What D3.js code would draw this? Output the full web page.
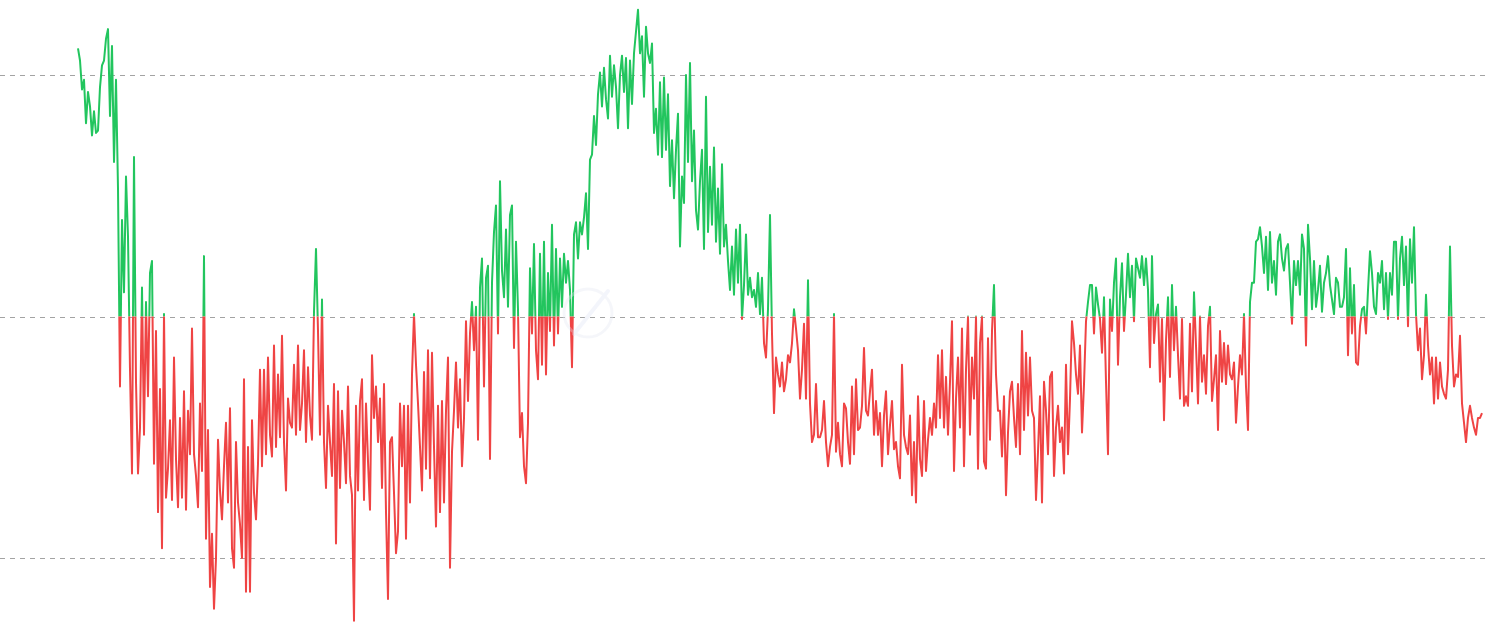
<!DOCTYPE html>
<html>
<head>
<meta charset="utf-8">
<script src="https://cdn.jsdelivr.net/npm/d3@7"></script>
<style>
  html, body { margin: 0; padding: 0; background: #ffffff; }
  svg { display: block; }
</style>
</head>
<body>
<svg id="chart" width="1490" height="633"></svg>
<script>
// ---- Data (gridlines at -100, 0, 100) ----
const gridValues = [-100, 0, 100];

const seriesPart1 = [
  111,106,94,98,80,93,87,75,85,76,
  77,95,104,106,115,119,83,112,64,98,
  53,-29,40,10,58,33,-22,-65,66,-27,
  -65,-46,12,-49,6,-33,18,23,-61,-6,
  -81,-30,-96,1,-75,-63,-43,-76,-17,-59,
  -79,-42,-75,-31,-80,-39,-57,-5,-57,-66,
  -79,-36,-64,25,-92,-47,-112,-90,-121,-100,
  -51,-72,-84,-62,-44,-77,-38,-96,-104,-52,
  -77,-86,-100,-26,-114,-54,-114,-43,-73,-84,
  -61,-22,-62,-22,-57,-17,-49,-58,-12,-54,
  -24,-50,-8,-52,-72,-34,-44,-46,-20,-49,
  -12,-47,-36,-14,-52,-21,-41,-51,2,28,
  -6,-49,7,-52,-71,-37,-52,-66,-28,-94,
  -31,-71,-39,-52,-69,-29,-66,-74,-126,-37,
  -72,-35
];
const seriesPart2 = [
  -26,-76,-36,-60,-80,-16,-42,-29,-52,-34,
  -71,-28,-81,-117,-52,-50,-73,-98,-89,-36,
  -62,-37,-92,-37,-77,-24,1,-20,-36,-54,
  -72,-23,-63,-14,-67,-15,-54,-87,-37,-81,
  -35,-77,-39,-17,-104,-56,-39,-19,-46,-26,
  -62,-42,-2,-35,-7,6,-14,4,-51,12,
  24,-29,16,21,-59,14,35,46,-7,56,
  19,8,36,4,42,46,-13,31,3,-50,
  -40,-62,-69,-44,20,-7,30,-14,-26,26,
  -20,31,-24,18,-6,38,-12,28,-7,24,
  4,26,14,23,11,-21,34,39,24,39,
  34,41,51,28,65,67,83,71,92,101,
  87,103,90,82,108,91,104,95,78,100,
  108,93,107,78,106,88,109,118,127
];
const seriesPart3 = [
  109,116,91,120,109,105,113,76,86,67,
  97,66,99,69,92,54,73,49,69,84,
  29,58,47,100,64,105,56,77,44,36,
  56,69,28,91,35,62,38,70,31,53,
  26,63,29,38,23,11,29,9,36,14,
  38,-1,13,34,9,16,8,11,4,18,
  1,16,-11,-17,3,42,-7,-40,-17,-24,
  -29,-19,-31,-26,-16,-19,-11,3,-5,-14,
  -34,-22,-3,-34,15,-36,-52,-49,-28,-50,
  -50,-47,-35,-52,-62,-54,-49,1,-56,-44,
  -57,-62,-36,-38,-52,-61,-29,-57,-26,-47,
  -46,-37,-13,-39,-41,-31,-22,-49,-35,-49,
  -40,-62,-41,-31,-57,-45,-35,-55,-52,-62,
  -67,-20,-49,-54,-57,-41,-74,-52,-77,-33
];
const seriesPart4 = [
  -59,-66,-35,-64,-51,-42,-49,-36,-46,-16,
  -42,-14,-46,-25,-49,-27,-2,-64,-34,-17,
  -46,-5,-62,-22,0,-49,-17,-34,0,-63,
  -11,0,-60,-63,-9,-51,-6,13,-24,-39,
  -39,-58,-33,-74,-48,-31,-27,-42,-54,-28,
  -57,-6,-47,-15,-41,-17,-39,-42,-76,-56,
  -33,-77,-27,-39,-57,-25,-23,-66,-46,-37,
  -52,-46,-65,-20,-57,-34,-2,-11,-24,-32,
  -12,-48,-28,-2,6,13,13,-7,12,5,
  -1,-15,8,-27,-57,7,-6,14,24,-20,
  8,22,-6,9,26,8,21,-2,24,20,
  16,25,13,24,11,-21,25,-11,1,5,
  -27,-1,-43,-10,8,-25,13,-14,4,-16,
  -34,-1,-37,-33,-37,-3,-31,10,-12
];
const seriesPart5 = [
  -36,0,-27,-16,-32,-4,4,-35,-26,-16,
  -47,-6,-27,-11,-28,-12,-24,-26,-19,-44,
  -29,-16,-24,1,-29,-47,6,14,14,31,
  32,37,29,18,33,11,35,14,23,9,
  31,34,24,19,28,30,14,-3,23,13,
  23,9,34,28,-12,38,24,3,23,4,
  11,21,2,14,18,25,13,7,1,16,
  14,4,4,8,28,-16,20,-7,13,-19,
  -20,-4,3,4,-7,11,27,18,4,1,
  18,14,23,3,18,-1,18,9,31,31,
  -1,24,33,13,29,-4,32,14,37,1,
  -14,-5,-26,-16,9,-12,-24,-17,-36,-17,
  -34,-19,-29,-32,-34,-22,29,-12,-29,-24,
  -25,-8,-36,-44,-52,-42,-37,-42,-46,-49,
  -42,-42,-40
];

const values = [].concat(seriesPart1, seriesPart2, seriesPart3, seriesPart4, seriesPart5);

// ---- Layout ----
const W = 1490, H = 633;
const svg = d3.select("#chart");

const x = d3.scaleLinear().domain([0, values.length - 1]).range([78, 1482]);
const y = d3.scaleLinear().domain([-100, 100]).range([558, 75]);
const y0 = y(0);

// gridlines
svg.append("g")
  .selectAll("line")
  .data(gridValues)
  .join("line")
  .attr("x1", 0)
  .attr("x2", 1486)
  .attr("y1", d => Math.round(y(d)) + 0.5)
  .attr("y2", d => Math.round(y(d)) + 0.5)
  .attr("stroke", "#a3a3a3")
  .attr("stroke-width", 1)
  .attr("stroke-dasharray", "5,5");

// clip paths
const defs = svg.append("defs");
defs.append("clipPath").attr("id", "clip-above")
  .append("rect").attr("x", 0).attr("y", 0).attr("width", W).attr("height", y0);
defs.append("clipPath").attr("id", "clip-below")
  .append("rect").attr("x", 0).attr("y", y0).attr("width", W).attr("height", H - y0);

const line = d3.line()
  .x((d, i) => x(i))
  .y(d => y(d));

svg.append("path")
  .datum(values)
  .attr("clip-path", "url(#clip-above)")
  .attr("fill", "none")
  .attr("stroke", "#22c55e")
  .attr("stroke-width", 2)
  .attr("stroke-linejoin", "round")
  .attr("d", line);

svg.append("path")
  .datum(values)
  .attr("clip-path", "url(#clip-below)")
  .attr("fill", "none")
  .attr("stroke", "#ef4444")
  .attr("stroke-width", 2)
  .attr("stroke-linejoin", "round")
  .attr("d", line);

// faint watermark logo
const wm = svg.append("g").attr("opacity", 0.35);
wm.append("circle")
  .attr("cx", 588).attr("cy", 313).attr("r", 24)
  .attr("fill", "none").attr("stroke", "#e4e8f2").attr("stroke-width", 3);
wm.append("path")
  .attr("d", "M574,334 L608,291")
  .attr("stroke", "#dfe3f5").attr("stroke-width", 4).attr("stroke-linecap", "round");
</script>
</body>
</html>
